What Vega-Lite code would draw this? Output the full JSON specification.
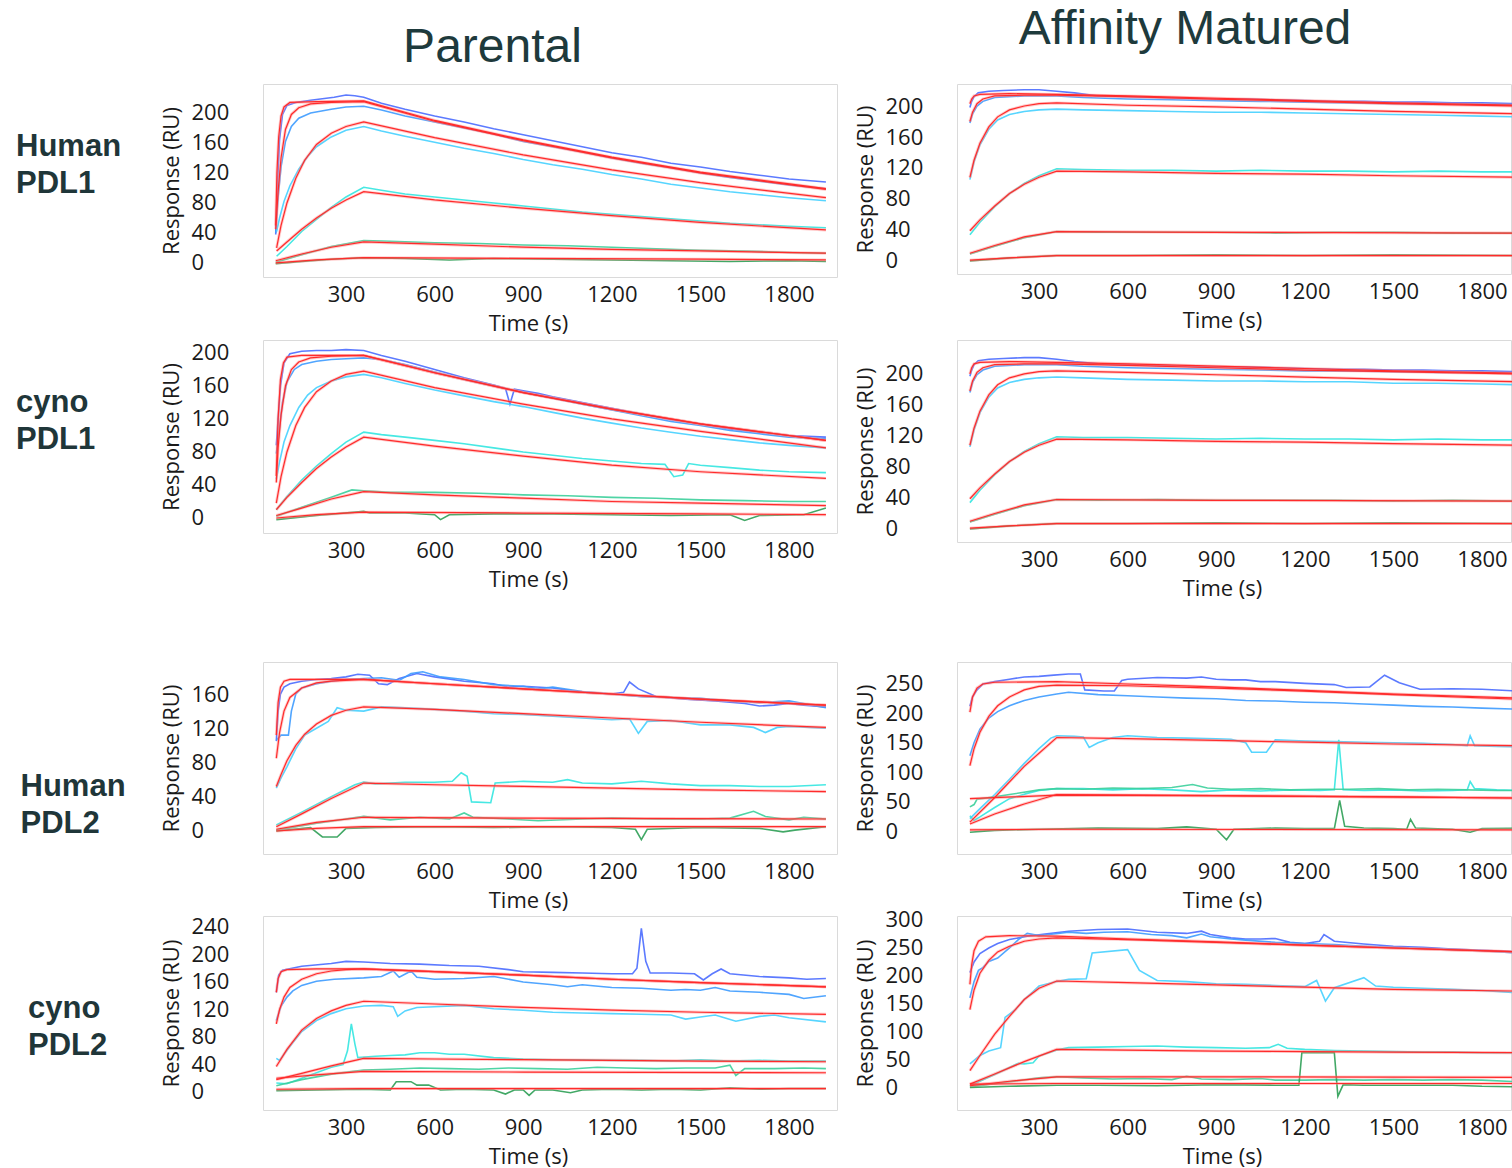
{
"$schema":"https://vega.github.io/schema/vega-lite/v6.json",
"padding":{"left":0,"top":0,"right":0,"bottom":0},
"background":"white",
"config":{
 "view":{"stroke":"#dadada","strokeWidth":1},
 "axis":{"grid":false,"ticks":false,"tickSize":0,"domain":false,"labelFont":"Open Sans","labelFontSize":22,"labelColor":"#1a1a1a","titleFont":"Open Sans","titleFontSize":22,"titleFontWeight":"normal","titleColor":"#1a1a1a","labelOverlap":false},
 "axisX":{"labelPadding":7,"titleX":265,"titleY":53,"titleBaseline":"alphabetic","titleAlign":"center","format":"d"},
 "axisY":{"labelAlign":"left","labelPadding":72,"titleX":-84.5,"titleBaseline":"alphabetic","titleAngle":-90},
 "line":{"clip":true}
},
"datasets":{
"a":[
{"s":11,"t":62,"y":50},{"s":11,"t":66,"y":120},{"s":11,"t":72,"y":168},{"s":11,"t":80,"y":196},{"s":11,"t":90,"y":208},{"s":11,"t":110,"y":214},{"s":11,"t":200,"y":215},{"s":11,"t":360,"y":216},{"s":11,"t":600,"y":190},{"s":11,"t":900,"y":164},{"s":11,"t":1200,"y":141},{"s":11,"t":1500,"y":121},{"s":11,"t":1925,"y":99},
{"s":1,"t":62,"y":38},{"s":1,"t":68,"y":105},{"s":1,"t":75,"y":165},{"s":1,"t":85,"y":198},{"s":1,"t":100,"y":210},{"s":1,"t":130,"y":214},{"s":1,"t":180,"y":217},{"s":1,"t":220,"y":219},{"s":1,"t":260,"y":221},{"s":1,"t":300,"y":224},{"s":1,"t":330,"y":223},{"s":1,"t":360,"y":221},{"s":1,"t":420,"y":213},{"s":1,"t":500,"y":205},{"s":1,"t":600,"y":196},{"s":1,"t":700,"y":188},{"s":1,"t":800,"y":179},{"s":1,"t":900,"y":171},{"s":1,"t":1000,"y":163},{"s":1,"t":1100,"y":155},{"s":1,"t":1200,"y":147},{"s":1,"t":1300,"y":141},{"s":1,"t":1400,"y":133},{"s":1,"t":1500,"y":128},{"s":1,"t":1600,"y":122},{"s":1,"t":1700,"y":117},{"s":1,"t":1800,"y":112},{"s":1,"t":1925,"y":108},
{"s":12,"t":62,"y":45},{"s":12,"t":70,"y":95},{"s":12,"t":80,"y":140},{"s":12,"t":95,"y":178},{"s":12,"t":115,"y":198},{"s":12,"t":140,"y":207},{"s":12,"t":180,"y":212},{"s":12,"t":250,"y":214},{"s":12,"t":360,"y":215},{"s":12,"t":600,"y":189},{"s":12,"t":900,"y":163},{"s":12,"t":1200,"y":140},{"s":12,"t":1500,"y":120},{"s":12,"t":1925,"y":98},
{"s":2,"t":62,"y":40},{"s":2,"t":70,"y":88},{"s":2,"t":80,"y":128},{"s":2,"t":95,"y":162},{"s":2,"t":115,"y":182},{"s":2,"t":140,"y":193},{"s":2,"t":180,"y":200},{"s":2,"t":250,"y":205},{"s":2,"t":300,"y":208},{"s":2,"t":360,"y":209},{"s":2,"t":420,"y":204},{"s":2,"t":500,"y":196},{"s":2,"t":600,"y":188},{"s":2,"t":700,"y":180},{"s":2,"t":800,"y":172},{"s":2,"t":900,"y":162},{"s":2,"t":1000,"y":155},{"s":2,"t":1100,"y":148},{"s":2,"t":1200,"y":140},{"s":2,"t":1300,"y":133},{"s":2,"t":1400,"y":127},{"s":2,"t":1500,"y":120},{"s":2,"t":1600,"y":114},{"s":2,"t":1700,"y":109},{"s":2,"t":1800,"y":104},{"s":2,"t":1925,"y":99},
{"s":13,"t":65,"y":20},{"s":13,"t":80,"y":50},{"s":13,"t":100,"y":80},{"s":13,"t":130,"y":113},{"s":13,"t":160,"y":137},{"s":13,"t":200,"y":158},{"s":13,"t":250,"y":173},{"s":13,"t":300,"y":182},{"s":13,"t":360,"y":188},{"s":13,"t":600,"y":167},{"s":13,"t":900,"y":144},{"s":13,"t":1200,"y":124},{"s":13,"t":1500,"y":107},{"s":13,"t":1925,"y":87},
{"s":3,"t":65,"y":42},{"s":3,"t":75,"y":60},{"s":3,"t":90,"y":82},{"s":3,"t":110,"y":103},{"s":3,"t":140,"y":125},{"s":3,"t":170,"y":142},{"s":3,"t":200,"y":155},{"s":3,"t":250,"y":168},{"s":3,"t":300,"y":177},{"s":3,"t":360,"y":182},{"s":3,"t":420,"y":176},{"s":3,"t":500,"y":169},{"s":3,"t":600,"y":161},{"s":3,"t":700,"y":153},{"s":3,"t":800,"y":146},{"s":3,"t":900,"y":138},{"s":3,"t":1000,"y":131},{"s":3,"t":1100,"y":125},{"s":3,"t":1200,"y":118},{"s":3,"t":1300,"y":112},{"s":3,"t":1400,"y":105},{"s":3,"t":1500,"y":100},{"s":3,"t":1600,"y":95},{"s":3,"t":1700,"y":91},{"s":3,"t":1800,"y":87},{"s":3,"t":1925,"y":83},
{"s":14,"t":65,"y":16},{"s":14,"t":100,"y":28},{"s":14,"t":150,"y":45},{"s":14,"t":200,"y":60},{"s":14,"t":250,"y":73},{"s":14,"t":300,"y":84},{"s":14,"t":360,"y":95},{"s":14,"t":600,"y":84},{"s":14,"t":900,"y":73},{"s":14,"t":1200,"y":63},{"s":14,"t":1500,"y":54},{"s":14,"t":1925,"y":44},
{"s":4,"t":65,"y":9},{"s":4,"t":100,"y":22},{"s":4,"t":150,"y":42},{"s":4,"t":200,"y":58},{"s":4,"t":250,"y":74},{"s":4,"t":300,"y":88},{"s":4,"t":360,"y":101},{"s":4,"t":420,"y":97},{"s":4,"t":500,"y":92},{"s":4,"t":600,"y":88},{"s":4,"t":700,"y":84},{"s":4,"t":800,"y":80},{"s":4,"t":900,"y":76},{"s":4,"t":1000,"y":72},{"s":4,"t":1100,"y":68},{"s":4,"t":1200,"y":65},{"s":4,"t":1300,"y":62},{"s":4,"t":1400,"y":59},{"s":4,"t":1500,"y":56},{"s":4,"t":1600,"y":53},{"s":4,"t":1700,"y":51},{"s":4,"t":1800,"y":49},{"s":4,"t":1925,"y":47},
{"s":15,"t":62,"y":3},{"s":15,"t":150,"y":12},{"s":15,"t":250,"y":21},{"s":15,"t":360,"y":28},{"s":15,"t":600,"y":25},{"s":15,"t":900,"y":21},{"s":15,"t":1200,"y":18},{"s":15,"t":1500,"y":16},{"s":15,"t":1925,"y":13},
{"s":5,"t":62,"y":1},{"s":5,"t":150,"y":11},{"s":5,"t":250,"y":22},{"s":5,"t":360,"y":30},{"s":5,"t":450,"y":29},{"s":5,"t":600,"y":27},{"s":5,"t":750,"y":26},{"s":5,"t":900,"y":24},{"s":5,"t":1050,"y":23},{"s":5,"t":1200,"y":21},{"s":5,"t":1350,"y":19},{"s":5,"t":1500,"y":17},{"s":5,"t":1650,"y":16},{"s":5,"t":1800,"y":14},{"s":5,"t":1925,"y":13},
{"s":16,"t":62,"y":0},{"s":16,"t":200,"y":4},{"s":16,"t":360,"y":7},{"s":16,"t":900,"y":6},{"s":16,"t":1500,"y":5},{"s":16,"t":1925,"y":4},
{"s":6,"t":62,"y":-1},{"s":6,"t":150,"y":2},{"s":6,"t":250,"y":5},{"s":6,"t":360,"y":7},{"s":6,"t":500,"y":6},{"s":6,"t":650,"y":4},{"s":6,"t":800,"y":6},{"s":6,"t":1000,"y":5},{"s":6,"t":1200,"y":4},{"s":6,"t":1400,"y":3},{"s":6,"t":1600,"y":2},{"s":6,"t":1800,"y":3},{"s":6,"t":1925,"y":2}
],
"b":[
{"s":11,"t":66,"y":203},{"s":11,"t":72,"y":209},{"s":11,"t":80,"y":213},{"s":11,"t":100,"y":215},{"s":11,"t":200,"y":216},{"s":11,"t":360,"y":215},{"s":11,"t":600,"y":213},{"s":11,"t":900,"y":210},{"s":11,"t":1200,"y":207},{"s":11,"t":1500,"y":204},{"s":11,"t":1925,"y":201},
{"s":1,"t":66,"y":198},{"s":1,"t":72,"y":206},{"s":1,"t":80,"y":212},{"s":1,"t":94,"y":217},{"s":1,"t":130,"y":219},{"s":1,"t":180,"y":220},{"s":1,"t":250,"y":221},{"s":1,"t":300,"y":221},{"s":1,"t":360,"y":219},{"s":1,"t":420,"y":217},{"s":1,"t":500,"y":213},{"s":1,"t":600,"y":212},{"s":1,"t":700,"y":211},{"s":1,"t":800,"y":210},{"s":1,"t":900,"y":209},{"s":1,"t":1000,"y":209},{"s":1,"t":1100,"y":208},{"s":1,"t":1200,"y":207},{"s":1,"t":1300,"y":206},{"s":1,"t":1400,"y":206},{"s":1,"t":1500,"y":205},{"s":1,"t":1600,"y":205},{"s":1,"t":1700,"y":204},{"s":1,"t":1800,"y":204},{"s":1,"t":1925,"y":203},
{"s":12,"t":66,"y":180},{"s":12,"t":75,"y":192},{"s":12,"t":90,"y":203},{"s":12,"t":110,"y":209},{"s":12,"t":150,"y":213},{"s":12,"t":250,"y":214},{"s":12,"t":360,"y":214},{"s":12,"t":600,"y":212},{"s":12,"t":900,"y":209},{"s":12,"t":1200,"y":206},{"s":12,"t":1500,"y":203},{"s":12,"t":1925,"y":200},
{"s":2,"t":66,"y":178},{"s":2,"t":75,"y":190},{"s":2,"t":90,"y":200},{"s":2,"t":110,"y":206},{"s":2,"t":150,"y":211},{"s":2,"t":250,"y":213},{"s":2,"t":360,"y":213},{"s":2,"t":450,"y":211},{"s":2,"t":600,"y":209},{"s":2,"t":750,"y":208},{"s":2,"t":900,"y":207},{"s":2,"t":1050,"y":206},{"s":2,"t":1200,"y":205},{"s":2,"t":1350,"y":204},{"s":2,"t":1500,"y":203},{"s":2,"t":1650,"y":203},{"s":2,"t":1800,"y":202},{"s":2,"t":1925,"y":202},
{"s":13,"t":66,"y":108},{"s":13,"t":80,"y":130},{"s":13,"t":100,"y":152},{"s":13,"t":130,"y":173},{"s":13,"t":160,"y":186},{"s":13,"t":200,"y":195},{"s":13,"t":250,"y":200},{"s":13,"t":300,"y":203},{"s":13,"t":360,"y":204},{"s":13,"t":600,"y":201},{"s":13,"t":900,"y":199},{"s":13,"t":1200,"y":196},{"s":13,"t":1500,"y":193},{"s":13,"t":1925,"y":190},
{"s":3,"t":66,"y":105},{"s":3,"t":80,"y":128},{"s":3,"t":100,"y":150},{"s":3,"t":130,"y":170},{"s":3,"t":160,"y":182},{"s":3,"t":200,"y":189},{"s":3,"t":250,"y":193},{"s":3,"t":300,"y":195},{"s":3,"t":360,"y":196},{"s":3,"t":450,"y":195},{"s":3,"t":600,"y":194},{"s":3,"t":750,"y":193},{"s":3,"t":900,"y":192},{"s":3,"t":1050,"y":192},{"s":3,"t":1200,"y":191},{"s":3,"t":1350,"y":190},{"s":3,"t":1500,"y":189},{"s":3,"t":1650,"y":188},{"s":3,"t":1800,"y":187},{"s":3,"t":1925,"y":186},
{"s":14,"t":66,"y":39},{"s":14,"t":100,"y":53},{"s":14,"t":150,"y":71},{"s":14,"t":200,"y":87},{"s":14,"t":250,"y":99},{"s":14,"t":300,"y":108},{"s":14,"t":360,"y":116},{"s":14,"t":600,"y":115},{"s":14,"t":900,"y":113},{"s":14,"t":1200,"y":112},{"s":14,"t":1500,"y":110},{"s":14,"t":1925,"y":108},
{"s":4,"t":66,"y":34},{"s":4,"t":100,"y":50},{"s":4,"t":150,"y":70},{"s":4,"t":200,"y":87},{"s":4,"t":250,"y":100},{"s":4,"t":300,"y":110},{"s":4,"t":360,"y":119},{"s":4,"t":450,"y":118},{"s":4,"t":600,"y":117},{"s":4,"t":750,"y":117},{"s":4,"t":900,"y":116},{"s":4,"t":1050,"y":117},{"s":4,"t":1200,"y":116},{"s":4,"t":1350,"y":116},{"s":4,"t":1500,"y":115},{"s":4,"t":1650,"y":116},{"s":4,"t":1800,"y":115},{"s":4,"t":1925,"y":115},
{"s":15,"t":66,"y":10},{"s":15,"t":150,"y":20},{"s":15,"t":250,"y":31},{"s":15,"t":360,"y":38},{"s":15,"t":900,"y":37},{"s":15,"t":1925,"y":36},
{"s":5,"t":66,"y":9},{"s":5,"t":150,"y":19},{"s":5,"t":250,"y":30},{"s":5,"t":360,"y":38},{"s":5,"t":500,"y":37},{"s":5,"t":700,"y":37},{"s":5,"t":900,"y":37},{"s":5,"t":1100,"y":36},{"s":5,"t":1300,"y":37},{"s":5,"t":1500,"y":37},{"s":5,"t":1700,"y":36},{"s":5,"t":1925,"y":36},
{"s":16,"t":66,"y":1},{"s":16,"t":200,"y":4},{"s":16,"t":360,"y":7},{"s":16,"t":1925,"y":7},
{"s":6,"t":66,"y":0},{"s":6,"t":200,"y":4},{"s":6,"t":360,"y":7},{"s":6,"t":600,"y":7},{"s":6,"t":900,"y":8},{"s":6,"t":1200,"y":7},{"s":6,"t":1500,"y":8},{"s":6,"t":1925,"y":7}
],
"c":[
{"s":11,"t":64,"y":51},{"s":11,"t":70,"y":120},{"s":11,"t":78,"y":168},{"s":11,"t":88,"y":188},{"s":11,"t":100,"y":195},{"s":11,"t":150,"y":197},{"s":11,"t":360,"y":197},{"s":11,"t":600,"y":176},{"s":11,"t":900,"y":152},{"s":11,"t":1200,"y":132},{"s":11,"t":1500,"y":114},{"s":11,"t":1925,"y":94},
{"s":1,"t":64,"y":88},{"s":1,"t":70,"y":120},{"s":1,"t":78,"y":160},{"s":1,"t":90,"y":188},{"s":1,"t":110,"y":199},{"s":1,"t":150,"y":202},{"s":1,"t":200,"y":203},{"s":1,"t":250,"y":203},{"s":1,"t":300,"y":204},{"s":1,"t":360,"y":203},{"s":1,"t":420,"y":197},{"s":1,"t":500,"y":190},{"s":1,"t":600,"y":180},{"s":1,"t":700,"y":170},{"s":1,"t":800,"y":161},{"s":1,"t":840,"y":157},{"s":1,"t":855,"y":138},{"s":1,"t":870,"y":156},{"s":1,"t":900,"y":154},{"s":1,"t":950,"y":151},{"s":1,"t":1000,"y":147},{"s":1,"t":1100,"y":140},{"s":1,"t":1200,"y":133},{"s":1,"t":1300,"y":126},{"s":1,"t":1400,"y":119},{"s":1,"t":1500,"y":114},{"s":1,"t":1600,"y":108},{"s":1,"t":1700,"y":104},{"s":1,"t":1800,"y":100},{"s":1,"t":1925,"y":98},
{"s":12,"t":64,"y":43},{"s":12,"t":70,"y":85},{"s":12,"t":80,"y":125},{"s":12,"t":95,"y":160},{"s":12,"t":115,"y":180},{"s":12,"t":140,"y":189},{"s":12,"t":180,"y":194},{"s":12,"t":250,"y":196},{"s":12,"t":360,"y":197},{"s":12,"t":600,"y":176},{"s":12,"t":900,"y":152},{"s":12,"t":1200,"y":132},{"s":12,"t":1500,"y":114},{"s":12,"t":1925,"y":94},
{"s":2,"t":64,"y":78},{"s":2,"t":72,"y":100},{"s":2,"t":85,"y":140},{"s":2,"t":100,"y":165},{"s":2,"t":125,"y":180},{"s":2,"t":150,"y":186},{"s":2,"t":200,"y":190},{"s":2,"t":250,"y":192},{"s":2,"t":300,"y":193},{"s":2,"t":360,"y":194},{"s":2,"t":420,"y":192},{"s":2,"t":500,"y":186},{"s":2,"t":600,"y":177},{"s":2,"t":700,"y":168},{"s":2,"t":800,"y":160},{"s":2,"t":900,"y":152},{"s":2,"t":1000,"y":145},{"s":2,"t":1100,"y":138},{"s":2,"t":1200,"y":131},{"s":2,"t":1300,"y":124},{"s":2,"t":1400,"y":117},{"s":2,"t":1500,"y":112},{"s":2,"t":1600,"y":106},{"s":2,"t":1700,"y":102},{"s":2,"t":1800,"y":98},{"s":2,"t":1925,"y":96},
{"s":13,"t":64,"y":18},{"s":13,"t":80,"y":50},{"s":13,"t":100,"y":80},{"s":13,"t":130,"y":112},{"s":13,"t":160,"y":134},{"s":13,"t":200,"y":153},{"s":13,"t":250,"y":166},{"s":13,"t":300,"y":174},{"s":13,"t":360,"y":178},{"s":13,"t":600,"y":158},{"s":13,"t":900,"y":138},{"s":13,"t":1200,"y":120},{"s":13,"t":1500,"y":105},{"s":13,"t":1925,"y":85},
{"s":3,"t":64,"y":47},{"s":3,"t":75,"y":68},{"s":3,"t":90,"y":92},{"s":3,"t":110,"y":112},{"s":3,"t":140,"y":134},{"s":3,"t":170,"y":149},{"s":3,"t":200,"y":158},{"s":3,"t":250,"y":166},{"s":3,"t":300,"y":171},{"s":3,"t":360,"y":174},{"s":3,"t":420,"y":170},{"s":3,"t":500,"y":163},{"s":3,"t":600,"y":155},{"s":3,"t":700,"y":148},{"s":3,"t":800,"y":141},{"s":3,"t":900,"y":135},{"s":3,"t":1000,"y":128},{"s":3,"t":1100,"y":121},{"s":3,"t":1200,"y":115},{"s":3,"t":1300,"y":109},{"s":3,"t":1400,"y":104},{"s":3,"t":1500,"y":99},{"s":3,"t":1600,"y":95},{"s":3,"t":1700,"y":91},{"s":3,"t":1800,"y":88},{"s":3,"t":1925,"y":85},
{"s":14,"t":64,"y":10},{"s":14,"t":100,"y":25},{"s":14,"t":150,"y":43},{"s":14,"t":200,"y":60},{"s":14,"t":250,"y":74},{"s":14,"t":300,"y":86},{"s":14,"t":360,"y":98},{"s":14,"t":600,"y":87},{"s":14,"t":900,"y":75},{"s":14,"t":1200,"y":64},{"s":14,"t":1500,"y":56},{"s":14,"t":1925,"y":48},
{"s":4,"t":64,"y":10},{"s":4,"t":100,"y":26},{"s":4,"t":150,"y":46},{"s":4,"t":200,"y":63},{"s":4,"t":250,"y":78},{"s":4,"t":300,"y":92},{"s":4,"t":360,"y":104},{"s":4,"t":420,"y":101},{"s":4,"t":500,"y":98},{"s":4,"t":600,"y":94},{"s":4,"t":700,"y":90},{"s":4,"t":800,"y":85},{"s":4,"t":900,"y":80},{"s":4,"t":1000,"y":76},{"s":4,"t":1100,"y":72},{"s":4,"t":1200,"y":69},{"s":4,"t":1300,"y":66},{"s":4,"t":1380,"y":65},{"s":4,"t":1410,"y":50},{"s":4,"t":1440,"y":52},{"s":4,"t":1460,"y":66},{"s":4,"t":1500,"y":64},{"s":4,"t":1600,"y":61},{"s":4,"t":1700,"y":58},{"s":4,"t":1800,"y":56},{"s":4,"t":1925,"y":55},
{"s":15,"t":64,"y":3},{"s":15,"t":150,"y":12},{"s":15,"t":250,"y":23},{"s":15,"t":360,"y":32},{"s":15,"t":600,"y":28},{"s":15,"t":900,"y":24},{"s":15,"t":1200,"y":20},{"s":15,"t":1500,"y":18},{"s":15,"t":1925,"y":15},
{"s":5,"t":64,"y":2},{"s":5,"t":150,"y":13},{"s":5,"t":250,"y":25},{"s":5,"t":320,"y":34},{"s":5,"t":360,"y":33},{"s":5,"t":450,"y":31},{"s":5,"t":600,"y":31},{"s":5,"t":750,"y":30},{"s":5,"t":900,"y":28},{"s":5,"t":1050,"y":27},{"s":5,"t":1200,"y":25},{"s":5,"t":1350,"y":24},{"s":5,"t":1500,"y":22},{"s":5,"t":1650,"y":21},{"s":5,"t":1800,"y":20},{"s":5,"t":1925,"y":20},
{"s":16,"t":64,"y":0},{"s":16,"t":200,"y":4},{"s":16,"t":360,"y":7},{"s":16,"t":900,"y":6},{"s":16,"t":1500,"y":5},{"s":16,"t":1925,"y":4},
{"s":6,"t":64,"y":-2},{"s":6,"t":200,"y":3},{"s":6,"t":360,"y":8},{"s":6,"t":380,"y":6},{"s":6,"t":500,"y":6},{"s":6,"t":600,"y":4},{"s":6,"t":620,"y":-2},{"s":6,"t":650,"y":4},{"s":6,"t":800,"y":5},{"s":6,"t":1000,"y":5},{"s":6,"t":1200,"y":4},{"s":6,"t":1400,"y":3},{"s":6,"t":1600,"y":4},{"s":6,"t":1650,"y":-3},{"s":6,"t":1700,"y":3},{"s":6,"t":1850,"y":4},{"s":6,"t":1925,"y":12}
],
"d":[
{"s":11,"t":66,"y":200},{"s":11,"t":72,"y":208},{"s":11,"t":80,"y":213},{"s":11,"t":100,"y":215},{"s":11,"t":200,"y":216},{"s":11,"t":360,"y":215},{"s":11,"t":600,"y":213},{"s":11,"t":900,"y":210},{"s":11,"t":1200,"y":207},{"s":11,"t":1500,"y":204},{"s":11,"t":1925,"y":201},
{"s":1,"t":66,"y":197},{"s":1,"t":72,"y":205},{"s":1,"t":80,"y":212},{"s":1,"t":94,"y":217},{"s":1,"t":130,"y":219},{"s":1,"t":180,"y":220},{"s":1,"t":250,"y":221},{"s":1,"t":300,"y":221},{"s":1,"t":360,"y":219},{"s":1,"t":420,"y":216},{"s":1,"t":500,"y":213},{"s":1,"t":600,"y":212},{"s":1,"t":700,"y":211},{"s":1,"t":800,"y":210},{"s":1,"t":900,"y":209},{"s":1,"t":1000,"y":209},{"s":1,"t":1100,"y":208},{"s":1,"t":1200,"y":207},{"s":1,"t":1300,"y":206},{"s":1,"t":1400,"y":206},{"s":1,"t":1500,"y":205},{"s":1,"t":1600,"y":205},{"s":1,"t":1700,"y":204},{"s":1,"t":1800,"y":204},{"s":1,"t":1925,"y":203},
{"s":12,"t":66,"y":178},{"s":12,"t":75,"y":191},{"s":12,"t":90,"y":202},{"s":12,"t":110,"y":208},{"s":12,"t":150,"y":212},{"s":12,"t":250,"y":213},{"s":12,"t":360,"y":213},{"s":12,"t":600,"y":211},{"s":12,"t":900,"y":208},{"s":12,"t":1200,"y":205},{"s":12,"t":1500,"y":203},{"s":12,"t":1925,"y":200},
{"s":2,"t":66,"y":176},{"s":2,"t":75,"y":189},{"s":2,"t":90,"y":199},{"s":2,"t":110,"y":205},{"s":2,"t":150,"y":210},{"s":2,"t":250,"y":212},{"s":2,"t":360,"y":212},{"s":2,"t":450,"y":210},{"s":2,"t":600,"y":208},{"s":2,"t":750,"y":207},{"s":2,"t":900,"y":206},{"s":2,"t":1050,"y":205},{"s":2,"t":1200,"y":204},{"s":2,"t":1350,"y":204},{"s":2,"t":1500,"y":203},{"s":2,"t":1650,"y":202},{"s":2,"t":1800,"y":202},{"s":2,"t":1925,"y":201},
{"s":13,"t":66,"y":108},{"s":13,"t":80,"y":130},{"s":13,"t":100,"y":152},{"s":13,"t":130,"y":173},{"s":13,"t":160,"y":186},{"s":13,"t":200,"y":195},{"s":13,"t":250,"y":200},{"s":13,"t":300,"y":203},{"s":13,"t":360,"y":204},{"s":13,"t":600,"y":202},{"s":13,"t":900,"y":199},{"s":13,"t":1200,"y":196},{"s":13,"t":1500,"y":193},{"s":13,"t":1925,"y":190},
{"s":3,"t":66,"y":106},{"s":3,"t":80,"y":128},{"s":3,"t":100,"y":150},{"s":3,"t":130,"y":170},{"s":3,"t":160,"y":182},{"s":3,"t":200,"y":189},{"s":3,"t":250,"y":193},{"s":3,"t":300,"y":195},{"s":3,"t":360,"y":196},{"s":3,"t":450,"y":195},{"s":3,"t":600,"y":193},{"s":3,"t":750,"y":192},{"s":3,"t":900,"y":191},{"s":3,"t":1050,"y":191},{"s":3,"t":1200,"y":190},{"s":3,"t":1350,"y":190},{"s":3,"t":1500,"y":188},{"s":3,"t":1650,"y":188},{"s":3,"t":1800,"y":187},{"s":3,"t":1925,"y":186},
{"s":14,"t":66,"y":39},{"s":14,"t":100,"y":53},{"s":14,"t":150,"y":71},{"s":14,"t":200,"y":87},{"s":14,"t":250,"y":99},{"s":14,"t":300,"y":108},{"s":14,"t":360,"y":116},{"s":14,"t":600,"y":115},{"s":14,"t":900,"y":113},{"s":14,"t":1200,"y":112},{"s":14,"t":1500,"y":110},{"s":14,"t":1925,"y":108},
{"s":4,"t":66,"y":34},{"s":4,"t":100,"y":50},{"s":4,"t":150,"y":70},{"s":4,"t":200,"y":87},{"s":4,"t":250,"y":100},{"s":4,"t":300,"y":110},{"s":4,"t":360,"y":119},{"s":4,"t":450,"y":118},{"s":4,"t":600,"y":118},{"s":4,"t":750,"y":117},{"s":4,"t":900,"y":116},{"s":4,"t":1050,"y":117},{"s":4,"t":1200,"y":116},{"s":4,"t":1350,"y":116},{"s":4,"t":1500,"y":115},{"s":4,"t":1650,"y":116},{"s":4,"t":1800,"y":115},{"s":4,"t":1925,"y":115},
{"s":15,"t":66,"y":10},{"s":15,"t":150,"y":20},{"s":15,"t":250,"y":31},{"s":15,"t":360,"y":38},{"s":15,"t":900,"y":37},{"s":15,"t":1925,"y":36},
{"s":5,"t":66,"y":9},{"s":5,"t":150,"y":19},{"s":5,"t":250,"y":30},{"s":5,"t":360,"y":38},{"s":5,"t":500,"y":37},{"s":5,"t":700,"y":38},{"s":5,"t":900,"y":37},{"s":5,"t":1100,"y":37},{"s":5,"t":1300,"y":37},{"s":5,"t":1500,"y":36},{"s":5,"t":1700,"y":37},{"s":5,"t":1925,"y":36},
{"s":16,"t":66,"y":1},{"s":16,"t":200,"y":4},{"s":16,"t":360,"y":7},{"s":16,"t":1925,"y":7},
{"s":6,"t":66,"y":0},{"s":6,"t":200,"y":4},{"s":6,"t":360,"y":7},{"s":6,"t":600,"y":7},{"s":6,"t":900,"y":8},{"s":6,"t":1200,"y":7},{"s":6,"t":1500,"y":8},{"s":6,"t":1925,"y":7}
],
"e":[
{"s":11,"t":64,"y":112},{"s":11,"t":70,"y":150},{"s":11,"t":78,"y":168},{"s":11,"t":90,"y":175},{"s":11,"t":110,"y":177},{"s":11,"t":200,"y":177},{"s":11,"t":360,"y":177},{"s":11,"t":600,"y":172},{"s":11,"t":900,"y":166},{"s":11,"t":1200,"y":160},{"s":11,"t":1500,"y":154},{"s":11,"t":1925,"y":147},
{"s":1,"t":64,"y":105},{"s":1,"t":70,"y":140},{"s":1,"t":78,"y":160},{"s":1,"t":90,"y":168},{"s":1,"t":110,"y":172},{"s":1,"t":150,"y":175},{"s":1,"t":200,"y":177},{"s":1,"t":250,"y":178},{"s":1,"t":300,"y":180},{"s":1,"t":340,"y":183},{"s":1,"t":380,"y":182},{"s":1,"t":410,"y":172},{"s":1,"t":440,"y":171},{"s":1,"t":480,"y":178},{"s":1,"t":540,"y":184},{"s":1,"t":600,"y":180},{"s":1,"t":700,"y":175},{"s":1,"t":800,"y":172},{"s":1,"t":850,"y":168},{"s":1,"t":900,"y":169},{"s":1,"t":1000,"y":167},{"s":1,"t":1100,"y":162},{"s":1,"t":1200,"y":160},{"s":1,"t":1240,"y":162},{"s":1,"t":1260,"y":174},{"s":1,"t":1290,"y":166},{"s":1,"t":1350,"y":157},{"s":1,"t":1450,"y":154},{"s":1,"t":1550,"y":152},{"s":1,"t":1650,"y":149},{"s":1,"t":1700,"y":146},{"s":1,"t":1750,"y":147},{"s":1,"t":1800,"y":149},{"s":1,"t":1850,"y":147},{"s":1,"t":1925,"y":145},
{"s":12,"t":64,"y":85},{"s":12,"t":75,"y":115},{"s":12,"t":90,"y":140},{"s":12,"t":110,"y":156},{"s":12,"t":150,"y":167},{"s":12,"t":200,"y":173},{"s":12,"t":250,"y":175},{"s":12,"t":360,"y":177},{"s":12,"t":600,"y":172},{"s":12,"t":900,"y":166},{"s":12,"t":1200,"y":160},{"s":12,"t":1500,"y":154},{"s":12,"t":1925,"y":147},
{"s":2,"t":64,"y":106},{"s":2,"t":80,"y":112},{"s":2,"t":105,"y":112},{"s":2,"t":115,"y":140},{"s":2,"t":130,"y":160},{"s":2,"t":150,"y":167},{"s":2,"t":200,"y":172},{"s":2,"t":250,"y":175},{"s":2,"t":300,"y":177},{"s":2,"t":360,"y":178},{"s":2,"t":420,"y":179},{"s":2,"t":480,"y":176},{"s":2,"t":520,"y":184},{"s":2,"t":560,"y":186},{"s":2,"t":620,"y":180},{"s":2,"t":700,"y":177},{"s":2,"t":800,"y":171},{"s":2,"t":900,"y":169},{"s":2,"t":950,"y":166},{"s":2,"t":1000,"y":168},{"s":2,"t":1100,"y":163},{"s":2,"t":1200,"y":160},{"s":2,"t":1300,"y":157},{"s":2,"t":1400,"y":156},{"s":2,"t":1500,"y":155},{"s":2,"t":1600,"y":152},{"s":2,"t":1700,"y":150},{"s":2,"t":1800,"y":152},{"s":2,"t":1925,"y":144},
{"s":13,"t":64,"y":52},{"s":13,"t":80,"y":66},{"s":13,"t":100,"y":82},{"s":13,"t":130,"y":100},{"s":13,"t":160,"y":113},{"s":13,"t":200,"y":125},{"s":13,"t":250,"y":135},{"s":13,"t":300,"y":141},{"s":13,"t":360,"y":145},{"s":13,"t":600,"y":142},{"s":13,"t":900,"y":137},{"s":13,"t":1200,"y":132},{"s":13,"t":1500,"y":127},{"s":13,"t":1925,"y":121},
{"s":3,"t":64,"y":50},{"s":3,"t":80,"y":62},{"s":3,"t":100,"y":75},{"s":3,"t":130,"y":96},{"s":3,"t":160,"y":112},{"s":3,"t":200,"y":120},{"s":3,"t":240,"y":128},{"s":3,"t":270,"y":144},{"s":3,"t":300,"y":141},{"s":3,"t":360,"y":140},{"s":3,"t":420,"y":145},{"s":3,"t":500,"y":144},{"s":3,"t":600,"y":142},{"s":3,"t":700,"y":140},{"s":3,"t":800,"y":137},{"s":3,"t":900,"y":136},{"s":3,"t":1000,"y":134},{"s":3,"t":1100,"y":132},{"s":3,"t":1200,"y":130},{"s":3,"t":1260,"y":131},{"s":3,"t":1290,"y":114},{"s":3,"t":1320,"y":128},{"s":3,"t":1400,"y":129},{"s":3,"t":1500,"y":124},{"s":3,"t":1600,"y":124},{"s":3,"t":1680,"y":121},{"s":3,"t":1720,"y":115},{"s":3,"t":1760,"y":121},{"s":3,"t":1800,"y":122},{"s":3,"t":1925,"y":120},
{"s":14,"t":64,"y":5},{"s":14,"t":150,"y":20},{"s":14,"t":250,"y":38},{"s":14,"t":360,"y":56},{"s":14,"t":600,"y":54},{"s":14,"t":900,"y":52},{"s":14,"t":1200,"y":50},{"s":14,"t":1500,"y":48},{"s":14,"t":1925,"y":46},
{"s":4,"t":64,"y":7},{"s":4,"t":150,"y":22},{"s":4,"t":250,"y":40},{"s":4,"t":330,"y":54},{"s":4,"t":360,"y":57},{"s":4,"t":400,"y":55},{"s":4,"t":500,"y":57},{"s":4,"t":600,"y":57},{"s":4,"t":660,"y":58},{"s":4,"t":690,"y":68},{"s":4,"t":710,"y":64},{"s":4,"t":725,"y":34},{"s":4,"t":790,"y":33},{"s":4,"t":805,"y":56},{"s":4,"t":900,"y":58},{"s":4,"t":1000,"y":57},{"s":4,"t":1050,"y":60},{"s":4,"t":1100,"y":56},{"s":4,"t":1200,"y":55},{"s":4,"t":1300,"y":58},{"s":4,"t":1400,"y":55},{"s":4,"t":1500,"y":53},{"s":4,"t":1600,"y":53},{"s":4,"t":1700,"y":52},{"s":4,"t":1800,"y":52},{"s":4,"t":1925,"y":54},
{"s":15,"t":64,"y":2},{"s":15,"t":200,"y":10},{"s":15,"t":360,"y":16},{"s":15,"t":900,"y":15},{"s":15,"t":1925,"y":14},
{"s":5,"t":64,"y":1},{"s":5,"t":200,"y":9},{"s":5,"t":300,"y":14},{"s":5,"t":360,"y":17},{"s":5,"t":450,"y":13},{"s":5,"t":550,"y":16},{"s":5,"t":650,"y":14},{"s":5,"t":700,"y":21},{"s":5,"t":730,"y":16},{"s":5,"t":850,"y":14},{"s":5,"t":950,"y":12},{"s":5,"t":1100,"y":14},{"s":5,"t":1200,"y":15},{"s":5,"t":1350,"y":14},{"s":5,"t":1500,"y":14},{"s":5,"t":1600,"y":15},{"s":5,"t":1680,"y":23},{"s":5,"t":1720,"y":17},{"s":5,"t":1800,"y":13},{"s":5,"t":1850,"y":16},{"s":5,"t":1925,"y":14},
{"s":16,"t":64,"y":0},{"s":16,"t":200,"y":3},{"s":16,"t":360,"y":5},{"s":16,"t":1925,"y":5},
{"s":6,"t":64,"y":0},{"s":6,"t":180,"y":4},{"s":6,"t":220,"y":-7},{"s":6,"t":270,"y":-7},{"s":6,"t":300,"y":3},{"s":6,"t":400,"y":4},{"s":6,"t":600,"y":5},{"s":6,"t":800,"y":4},{"s":6,"t":1000,"y":5},{"s":6,"t":1200,"y":4},{"s":6,"t":1280,"y":2},{"s":6,"t":1300,"y":-10},{"s":6,"t":1320,"y":2},{"s":6,"t":1500,"y":4},{"s":6,"t":1700,"y":3},{"s":6,"t":1780,"y":-1},{"s":6,"t":1820,"y":1},{"s":6,"t":1925,"y":5}
],
"f":[
{"s":11,"t":66,"y":202},{"s":11,"t":75,"y":228},{"s":11,"t":90,"y":243},{"s":11,"t":110,"y":250},{"s":11,"t":150,"y":253},{"s":11,"t":360,"y":254},{"s":11,"t":600,"y":250},{"s":11,"t":900,"y":245},{"s":11,"t":1200,"y":239},{"s":11,"t":1500,"y":233},{"s":11,"t":1925,"y":226},
{"s":1,"t":66,"y":212},{"s":1,"t":75,"y":228},{"s":1,"t":90,"y":240},{"s":1,"t":110,"y":250},{"s":1,"t":150,"y":254},{"s":1,"t":200,"y":258},{"s":1,"t":250,"y":262},{"s":1,"t":300,"y":263},{"s":1,"t":350,"y":265},{"s":1,"t":400,"y":267},{"s":1,"t":440,"y":267},{"s":1,"t":455,"y":240},{"s":1,"t":520,"y":238},{"s":1,"t":555,"y":238},{"s":1,"t":580,"y":256},{"s":1,"t":600,"y":258},{"s":1,"t":700,"y":261},{"s":1,"t":800,"y":260},{"s":1,"t":850,"y":262},{"s":1,"t":900,"y":258},{"s":1,"t":950,"y":257},{"s":1,"t":1000,"y":257},{"s":1,"t":1050,"y":254},{"s":1,"t":1100,"y":254},{"s":1,"t":1200,"y":251},{"s":1,"t":1300,"y":249},{"s":1,"t":1340,"y":244},{"s":1,"t":1420,"y":245},{"s":1,"t":1470,"y":265},{"s":1,"t":1520,"y":252},{"s":1,"t":1590,"y":241},{"s":1,"t":1700,"y":242},{"s":1,"t":1800,"y":241},{"s":1,"t":1925,"y":238},
{"s":12,"t":66,"y":111},{"s":12,"t":80,"y":140},{"s":12,"t":100,"y":168},{"s":12,"t":130,"y":195},{"s":12,"t":160,"y":213},{"s":12,"t":200,"y":228},{"s":12,"t":250,"y":240},{"s":12,"t":300,"y":246},{"s":12,"t":360,"y":248},{"s":12,"t":600,"y":247},{"s":12,"t":900,"y":243},{"s":12,"t":1200,"y":238},{"s":12,"t":1500,"y":232},{"s":12,"t":1925,"y":224},
{"s":2,"t":66,"y":128},{"s":2,"t":80,"y":150},{"s":2,"t":100,"y":173},{"s":2,"t":130,"y":192},{"s":2,"t":160,"y":203},{"s":2,"t":200,"y":213},{"s":2,"t":250,"y":222},{"s":2,"t":300,"y":228},{"s":2,"t":360,"y":233},{"s":2,"t":400,"y":236},{"s":2,"t":500,"y":232},{"s":2,"t":600,"y":230},{"s":2,"t":700,"y":228},{"s":2,"t":800,"y":226},{"s":2,"t":900,"y":225},{"s":2,"t":1000,"y":222},{"s":2,"t":1100,"y":221},{"s":2,"t":1200,"y":219},{"s":2,"t":1300,"y":218},{"s":2,"t":1400,"y":216},{"s":2,"t":1500,"y":214},{"s":2,"t":1600,"y":212},{"s":2,"t":1700,"y":211},{"s":2,"t":1800,"y":209},{"s":2,"t":1925,"y":207},
{"s":13,"t":66,"y":15},{"s":13,"t":150,"y":57},{"s":13,"t":250,"y":110},{"s":13,"t":360,"y":159},{"s":13,"t":600,"y":157},{"s":13,"t":900,"y":154},{"s":13,"t":1200,"y":151},{"s":13,"t":1500,"y":148},{"s":13,"t":1925,"y":145},
{"s":3,"t":66,"y":21},{"s":3,"t":100,"y":38},{"s":3,"t":150,"y":62},{"s":3,"t":200,"y":88},{"s":3,"t":250,"y":115},{"s":3,"t":300,"y":140},{"s":3,"t":340,"y":158},{"s":3,"t":360,"y":162},{"s":3,"t":420,"y":161},{"s":3,"t":450,"y":160},{"s":3,"t":470,"y":142},{"s":3,"t":500,"y":150},{"s":3,"t":550,"y":159},{"s":3,"t":600,"y":162},{"s":3,"t":700,"y":159},{"s":3,"t":800,"y":158},{"s":3,"t":900,"y":157},{"s":3,"t":950,"y":156},{"s":3,"t":1000,"y":150},{"s":3,"t":1020,"y":134},{"s":3,"t":1070,"y":134},{"s":3,"t":1100,"y":155},{"s":3,"t":1200,"y":153},{"s":3,"t":1300,"y":152},{"s":3,"t":1400,"y":151},{"s":3,"t":1500,"y":150},{"s":3,"t":1600,"y":149},{"s":3,"t":1700,"y":147},{"s":3,"t":1750,"y":145},{"s":3,"t":1760,"y":162},{"s":3,"t":1775,"y":145},{"s":3,"t":1850,"y":144},{"s":3,"t":1925,"y":143},
{"s":14,"t":66,"y":55},{"s":14,"t":360,"y":61},{"s":14,"t":900,"y":60},{"s":14,"t":1500,"y":58},{"s":14,"t":1925,"y":56},
{"s":15,"t":66,"y":12},{"s":15,"t":150,"y":29},{"s":15,"t":250,"y":46},{"s":15,"t":360,"y":62},{"s":15,"t":900,"y":60},{"s":15,"t":1500,"y":58},{"s":15,"t":1925,"y":56},
{"s":4,"t":66,"y":26},{"s":4,"t":80,"y":18},{"s":4,"t":100,"y":24},{"s":4,"t":150,"y":40},{"s":4,"t":200,"y":55},{"s":4,"t":260,"y":64},{"s":4,"t":300,"y":69},{"s":4,"t":360,"y":72},{"s":4,"t":450,"y":72},{"s":4,"t":550,"y":70},{"s":4,"t":650,"y":72},{"s":4,"t":750,"y":70},{"s":4,"t":850,"y":67},{"s":4,"t":950,"y":70},{"s":4,"t":1050,"y":68},{"s":4,"t":1150,"y":70},{"s":4,"t":1250,"y":69},{"s":4,"t":1300,"y":70},{"s":4,"t":1315,"y":155},{"s":4,"t":1330,"y":70},{"s":4,"t":1400,"y":69},{"s":4,"t":1500,"y":70},{"s":4,"t":1600,"y":68},{"s":4,"t":1700,"y":69},{"s":4,"t":1750,"y":70},{"s":4,"t":1760,"y":84},{"s":4,"t":1775,"y":72},{"s":4,"t":1850,"y":70},{"s":4,"t":1925,"y":69},
{"s":5,"t":66,"y":41},{"s":5,"t":80,"y":45},{"s":5,"t":90,"y":54},{"s":5,"t":150,"y":58},{"s":5,"t":200,"y":62},{"s":5,"t":300,"y":70},{"s":5,"t":360,"y":72},{"s":5,"t":450,"y":71},{"s":5,"t":550,"y":73},{"s":5,"t":650,"y":72},{"s":5,"t":750,"y":74},{"s":5,"t":820,"y":79},{"s":5,"t":870,"y":73},{"s":5,"t":950,"y":71},{"s":5,"t":1050,"y":72},{"s":5,"t":1150,"y":70},{"s":5,"t":1250,"y":71},{"s":5,"t":1350,"y":71},{"s":5,"t":1450,"y":72},{"s":5,"t":1550,"y":70},{"s":5,"t":1650,"y":71},{"s":5,"t":1750,"y":70},{"s":5,"t":1850,"y":69},{"s":5,"t":1925,"y":69},
{"s":16,"t":66,"y":2},{"s":16,"t":360,"y":3},{"s":16,"t":1925,"y":2},
{"s":6,"t":66,"y":-2},{"s":6,"t":150,"y":1},{"s":6,"t":300,"y":3},{"s":6,"t":500,"y":5},{"s":6,"t":700,"y":4},{"s":6,"t":800,"y":7},{"s":6,"t":900,"y":3},{"s":6,"t":935,"y":-15},{"s":6,"t":960,"y":3},{"s":6,"t":1100,"y":5},{"s":6,"t":1200,"y":4},{"s":6,"t":1300,"y":4},{"s":6,"t":1318,"y":52},{"s":6,"t":1335,"y":8},{"s":6,"t":1400,"y":5},{"s":6,"t":1500,"y":4},{"s":6,"t":1545,"y":3},{"s":6,"t":1558,"y":20},{"s":6,"t":1575,"y":5},{"s":6,"t":1700,"y":3},{"s":6,"t":1760,"y":-2},{"s":6,"t":1800,"y":4},{"s":6,"t":1925,"y":5}
],
"g":[
{"s":11,"t":64,"y":145},{"s":11,"t":70,"y":165},{"s":11,"t":80,"y":175},{"s":11,"t":100,"y":178},{"s":11,"t":200,"y":179},{"s":11,"t":360,"y":179},{"s":11,"t":600,"y":175},{"s":11,"t":900,"y":170},{"s":11,"t":1200,"y":164},{"s":11,"t":1500,"y":159},{"s":11,"t":1925,"y":153},
{"s":1,"t":64,"y":145},{"s":1,"t":72,"y":170},{"s":1,"t":85,"y":177},{"s":1,"t":150,"y":183},{"s":1,"t":250,"y":187},{"s":1,"t":300,"y":190},{"s":1,"t":360,"y":189},{"s":1,"t":450,"y":187},{"s":1,"t":550,"y":186},{"s":1,"t":650,"y":184},{"s":1,"t":750,"y":183},{"s":1,"t":850,"y":178},{"s":1,"t":900,"y":175},{"s":1,"t":1000,"y":174},{"s":1,"t":1100,"y":173},{"s":1,"t":1200,"y":172},{"s":1,"t":1270,"y":172},{"s":1,"t":1285,"y":180},{"s":1,"t":1300,"y":238},{"s":1,"t":1315,"y":190},{"s":1,"t":1330,"y":173},{"s":1,"t":1400,"y":173},{"s":1,"t":1480,"y":172},{"s":1,"t":1510,"y":163},{"s":1,"t":1540,"y":172},{"s":1,"t":1570,"y":179},{"s":1,"t":1600,"y":172},{"s":1,"t":1700,"y":168},{"s":1,"t":1800,"y":166},{"s":1,"t":1860,"y":164},{"s":1,"t":1925,"y":165},
{"s":12,"t":64,"y":99},{"s":12,"t":75,"y":120},{"s":12,"t":90,"y":138},{"s":12,"t":110,"y":152},{"s":12,"t":150,"y":164},{"s":12,"t":200,"y":172},{"s":12,"t":250,"y":176},{"s":12,"t":300,"y":178},{"s":12,"t":360,"y":179},{"s":12,"t":600,"y":175},{"s":12,"t":900,"y":170},{"s":12,"t":1200,"y":164},{"s":12,"t":1500,"y":159},{"s":12,"t":1925,"y":153},
{"s":2,"t":64,"y":104},{"s":2,"t":80,"y":125},{"s":2,"t":100,"y":138},{"s":2,"t":120,"y":147},{"s":2,"t":150,"y":155},{"s":2,"t":200,"y":161},{"s":2,"t":260,"y":164},{"s":2,"t":360,"y":166},{"s":2,"t":420,"y":168},{"s":2,"t":460,"y":176},{"s":2,"t":480,"y":167},{"s":2,"t":520,"y":176},{"s":2,"t":540,"y":167},{"s":2,"t":600,"y":164},{"s":2,"t":700,"y":165},{"s":2,"t":800,"y":168},{"s":2,"t":900,"y":160},{"s":2,"t":1000,"y":156},{"s":2,"t":1050,"y":153},{"s":2,"t":1100,"y":156},{"s":2,"t":1200,"y":152},{"s":2,"t":1300,"y":151},{"s":2,"t":1400,"y":148},{"s":2,"t":1450,"y":149},{"s":2,"t":1500,"y":148},{"s":2,"t":1550,"y":152},{"s":2,"t":1600,"y":147},{"s":2,"t":1700,"y":145},{"s":2,"t":1800,"y":142},{"s":2,"t":1850,"y":136},{"s":2,"t":1925,"y":140},
{"s":13,"t":64,"y":37},{"s":13,"t":100,"y":62},{"s":13,"t":150,"y":90},{"s":13,"t":200,"y":107},{"s":13,"t":250,"y":118},{"s":13,"t":300,"y":126},{"s":13,"t":360,"y":132},{"s":13,"t":600,"y":128},{"s":13,"t":900,"y":123},{"s":13,"t":1200,"y":119},{"s":13,"t":1500,"y":116},{"s":13,"t":1925,"y":113},
{"s":3,"t":64,"y":49},{"s":3,"t":75,"y":46},{"s":3,"t":90,"y":55},{"s":3,"t":120,"y":72},{"s":3,"t":150,"y":88},{"s":3,"t":200,"y":104},{"s":3,"t":250,"y":114},{"s":3,"t":300,"y":121},{"s":3,"t":360,"y":125},{"s":3,"t":420,"y":126},{"s":3,"t":460,"y":124},{"s":3,"t":475,"y":110},{"s":3,"t":500,"y":118},{"s":3,"t":540,"y":123},{"s":3,"t":600,"y":124},{"s":3,"t":700,"y":126},{"s":3,"t":800,"y":121},{"s":3,"t":900,"y":119},{"s":3,"t":1000,"y":116},{"s":3,"t":1100,"y":115},{"s":3,"t":1200,"y":114},{"s":3,"t":1300,"y":113},{"s":3,"t":1400,"y":112},{"s":3,"t":1450,"y":106},{"s":3,"t":1500,"y":109},{"s":3,"t":1550,"y":112},{"s":3,"t":1620,"y":103},{"s":3,"t":1700,"y":110},{"s":3,"t":1750,"y":112},{"s":3,"t":1800,"y":108},{"s":3,"t":1925,"y":102},
{"s":14,"t":64,"y":18},{"s":14,"t":150,"y":27},{"s":14,"t":250,"y":38},{"s":14,"t":360,"y":49},{"s":14,"t":600,"y":48},{"s":14,"t":900,"y":47},{"s":14,"t":1200,"y":46},{"s":14,"t":1500,"y":45},{"s":14,"t":1925,"y":44},
{"s":4,"t":64,"y":13},{"s":4,"t":100,"y":12},{"s":4,"t":150,"y":20},{"s":4,"t":200,"y":28},{"s":4,"t":250,"y":36},{"s":4,"t":290,"y":40},{"s":4,"t":305,"y":60},{"s":4,"t":318,"y":99},{"s":4,"t":330,"y":70},{"s":4,"t":340,"y":50},{"s":4,"t":400,"y":52},{"s":4,"t":450,"y":53},{"s":4,"t":500,"y":54},{"s":4,"t":550,"y":57},{"s":4,"t":600,"y":57},{"s":4,"t":650,"y":55},{"s":4,"t":700,"y":55},{"s":4,"t":800,"y":50},{"s":4,"t":900,"y":48},{"s":4,"t":1000,"y":47},{"s":4,"t":1100,"y":47},{"s":4,"t":1200,"y":46},{"s":4,"t":1300,"y":46},{"s":4,"t":1400,"y":45},{"s":4,"t":1500,"y":47},{"s":4,"t":1600,"y":45},{"s":4,"t":1700,"y":46},{"s":4,"t":1800,"y":45},{"s":4,"t":1925,"y":45},
{"s":15,"t":64,"y":20},{"s":15,"t":200,"y":25},{"s":15,"t":360,"y":30},{"s":15,"t":900,"y":29},{"s":15,"t":1925,"y":28},
{"s":5,"t":64,"y":9},{"s":5,"t":150,"y":18},{"s":5,"t":250,"y":26},{"s":5,"t":360,"y":32},{"s":5,"t":450,"y":33},{"s":5,"t":550,"y":35},{"s":5,"t":650,"y":34},{"s":5,"t":750,"y":33},{"s":5,"t":850,"y":35},{"s":5,"t":950,"y":34},{"s":5,"t":1050,"y":33},{"s":5,"t":1150,"y":36},{"s":5,"t":1250,"y":35},{"s":5,"t":1350,"y":34},{"s":5,"t":1450,"y":35},{"s":5,"t":1550,"y":35},{"s":5,"t":1600,"y":39},{"s":5,"t":1620,"y":24},{"s":5,"t":1650,"y":34},{"s":5,"t":1750,"y":34},{"s":5,"t":1850,"y":35},{"s":5,"t":1925,"y":34},
{"s":16,"t":64,"y":4},{"s":16,"t":360,"y":5},{"s":16,"t":1925,"y":5},
{"s":6,"t":64,"y":2},{"s":6,"t":200,"y":3},{"s":6,"t":350,"y":4},{"s":6,"t":450,"y":3},{"s":6,"t":470,"y":15},{"s":6,"t":520,"y":15},{"s":6,"t":540,"y":10},{"s":6,"t":580,"y":10},{"s":6,"t":620,"y":3},{"s":6,"t":700,"y":4},{"s":6,"t":800,"y":3},{"s":6,"t":840,"y":-3},{"s":6,"t":870,"y":3},{"s":6,"t":900,"y":3},{"s":6,"t":920,"y":-5},{"s":6,"t":940,"y":3},{"s":6,"t":1000,"y":3},{"s":6,"t":1060,"y":-1},{"s":6,"t":1100,"y":3},{"s":6,"t":1200,"y":4},{"s":6,"t":1300,"y":3},{"s":6,"t":1400,"y":4},{"s":6,"t":1500,"y":3},{"s":6,"t":1600,"y":6},{"s":6,"t":1700,"y":4},{"s":6,"t":1800,"y":5},{"s":6,"t":1925,"y":5}
],
"h":[
{"s":11,"t":66,"y":185},{"s":11,"t":72,"y":220},{"s":11,"t":80,"y":245},{"s":11,"t":95,"y":262},{"s":11,"t":120,"y":270},{"s":11,"t":200,"y":272},{"s":11,"t":360,"y":271},{"s":11,"t":600,"y":266},{"s":11,"t":900,"y":261},{"s":11,"t":1200,"y":255},{"s":11,"t":1500,"y":250},{"s":11,"t":1925,"y":243},
{"s":1,"t":66,"y":206},{"s":1,"t":80,"y":225},{"s":1,"t":100,"y":240},{"s":1,"t":130,"y":250},{"s":1,"t":160,"y":258},{"s":1,"t":200,"y":265},{"s":1,"t":260,"y":271},{"s":1,"t":320,"y":275},{"s":1,"t":400,"y":280},{"s":1,"t":500,"y":283},{"s":1,"t":600,"y":284},{"s":1,"t":700,"y":278},{"s":1,"t":800,"y":276},{"s":1,"t":850,"y":280},{"s":1,"t":880,"y":274},{"s":1,"t":950,"y":268},{"s":1,"t":1000,"y":266},{"s":1,"t":1050,"y":266},{"s":1,"t":1100,"y":267},{"s":1,"t":1150,"y":260},{"s":1,"t":1200,"y":258},{"s":1,"t":1250,"y":262},{"s":1,"t":1265,"y":274},{"s":1,"t":1300,"y":262},{"s":1,"t":1400,"y":257},{"s":1,"t":1500,"y":253},{"s":1,"t":1600,"y":251},{"s":1,"t":1700,"y":248},{"s":1,"t":1800,"y":246},{"s":1,"t":1925,"y":243},
{"s":12,"t":66,"y":140},{"s":12,"t":80,"y":175},{"s":12,"t":100,"y":205},{"s":12,"t":130,"y":228},{"s":12,"t":160,"y":243},{"s":12,"t":200,"y":253},{"s":12,"t":250,"y":262},{"s":12,"t":300,"y":266},{"s":12,"t":360,"y":268},{"s":12,"t":600,"y":265},{"s":12,"t":900,"y":260},{"s":12,"t":1200,"y":255},{"s":12,"t":1500,"y":250},{"s":12,"t":1925,"y":243},
{"s":2,"t":66,"y":161},{"s":2,"t":80,"y":190},{"s":2,"t":95,"y":210},{"s":2,"t":110,"y":215},{"s":2,"t":130,"y":226},{"s":2,"t":160,"y":232},{"s":2,"t":200,"y":250},{"s":2,"t":230,"y":265},{"s":2,"t":260,"y":276},{"s":2,"t":300,"y":272},{"s":2,"t":350,"y":275},{"s":2,"t":400,"y":278},{"s":2,"t":460,"y":276},{"s":2,"t":520,"y":278},{"s":2,"t":600,"y":279},{"s":2,"t":680,"y":274},{"s":2,"t":750,"y":272},{"s":2,"t":800,"y":268},{"s":2,"t":850,"y":275},{"s":2,"t":880,"y":270},{"s":2,"t":950,"y":266},{"s":2,"t":1000,"y":264},{"s":2,"t":1100,"y":260},{"s":2,"t":1200,"y":258},{"s":2,"t":1300,"y":256},{"s":2,"t":1400,"y":253},{"s":2,"t":1500,"y":251},{"s":2,"t":1600,"y":249},{"s":2,"t":1700,"y":247},{"s":2,"t":1800,"y":245},{"s":2,"t":1925,"y":241},
{"s":13,"t":66,"y":31},{"s":13,"t":100,"y":58},{"s":13,"t":150,"y":96},{"s":13,"t":200,"y":128},{"s":13,"t":250,"y":158},{"s":13,"t":300,"y":178},{"s":13,"t":360,"y":191},{"s":13,"t":600,"y":188},{"s":13,"t":900,"y":184},{"s":13,"t":1200,"y":180},{"s":13,"t":1500,"y":176},{"s":13,"t":1925,"y":173},
{"s":3,"t":66,"y":43},{"s":3,"t":100,"y":58},{"s":3,"t":130,"y":66},{"s":3,"t":170,"y":72},{"s":3,"t":185,"y":126},{"s":3,"t":220,"y":140},{"s":3,"t":250,"y":158},{"s":3,"t":280,"y":172},{"s":3,"t":300,"y":182},{"s":3,"t":360,"y":190},{"s":3,"t":400,"y":194},{"s":3,"t":460,"y":195},{"s":3,"t":480,"y":241},{"s":3,"t":600,"y":247},{"s":3,"t":640,"y":210},{"s":3,"t":700,"y":192},{"s":3,"t":800,"y":190},{"s":3,"t":900,"y":186},{"s":3,"t":1000,"y":185},{"s":3,"t":1100,"y":183},{"s":3,"t":1200,"y":181},{"s":3,"t":1240,"y":192},{"s":3,"t":1270,"y":155},{"s":3,"t":1300,"y":179},{"s":3,"t":1400,"y":197},{"s":3,"t":1440,"y":182},{"s":3,"t":1500,"y":180},{"s":3,"t":1600,"y":178},{"s":3,"t":1700,"y":176},{"s":3,"t":1800,"y":174},{"s":3,"t":1925,"y":170},
{"s":14,"t":66,"y":7},{"s":14,"t":150,"y":25},{"s":14,"t":250,"y":47},{"s":14,"t":360,"y":69},{"s":14,"t":900,"y":66},{"s":14,"t":1500,"y":64},{"s":14,"t":1925,"y":63},
{"s":4,"t":66,"y":4},{"s":4,"t":150,"y":24},{"s":4,"t":230,"y":44},{"s":4,"t":250,"y":43},{"s":4,"t":280,"y":45},{"s":4,"t":300,"y":57},{"s":4,"t":360,"y":68},{"s":4,"t":400,"y":72},{"s":4,"t":500,"y":73},{"s":4,"t":600,"y":74},{"s":4,"t":700,"y":75},{"s":4,"t":800,"y":73},{"s":4,"t":900,"y":72},{"s":4,"t":1000,"y":71},{"s":4,"t":1080,"y":72},{"s":4,"t":1110,"y":78},{"s":4,"t":1140,"y":71},{"s":4,"t":1200,"y":69},{"s":4,"t":1300,"y":67},{"s":4,"t":1400,"y":66},{"s":4,"t":1500,"y":65},{"s":4,"t":1600,"y":64},{"s":4,"t":1700,"y":64},{"s":4,"t":1800,"y":63},{"s":4,"t":1925,"y":63},
{"s":15,"t":66,"y":4},{"s":15,"t":200,"y":12},{"s":15,"t":360,"y":20},{"s":15,"t":900,"y":20},{"s":15,"t":1925,"y":19},
{"s":5,"t":66,"y":2},{"s":5,"t":200,"y":11},{"s":5,"t":300,"y":18},{"s":5,"t":360,"y":20},{"s":5,"t":450,"y":18},{"s":5,"t":550,"y":16},{"s":5,"t":650,"y":17},{"s":5,"t":750,"y":15},{"s":5,"t":800,"y":21},{"s":5,"t":850,"y":16},{"s":5,"t":950,"y":15},{"s":5,"t":1050,"y":17},{"s":5,"t":1100,"y":14},{"s":5,"t":1200,"y":14},{"s":5,"t":1300,"y":15},{"s":5,"t":1400,"y":14},{"s":5,"t":1500,"y":15},{"s":5,"t":1600,"y":14},{"s":5,"t":1700,"y":15},{"s":5,"t":1800,"y":14},{"s":5,"t":1925,"y":11},
{"s":16,"t":66,"y":7},{"s":16,"t":360,"y":8},{"s":16,"t":1925,"y":8},
{"s":6,"t":66,"y":1},{"s":6,"t":200,"y":3},{"s":6,"t":360,"y":5},{"s":6,"t":500,"y":5},{"s":6,"t":700,"y":4},{"s":6,"t":900,"y":6},{"s":6,"t":1100,"y":5},{"s":6,"t":1180,"y":5},{"s":6,"t":1190,"y":63},{"s":6,"t":1300,"y":63},{"s":6,"t":1312,"y":-15},{"s":6,"t":1330,"y":6},{"s":6,"t":1400,"y":5},{"s":6,"t":1500,"y":5},{"s":6,"t":1700,"y":5},{"s":6,"t":1800,"y":3},{"s":6,"t":1925,"y":2}
]
},
"columns":3,
"bounds":"flush",
"align":"each",
"spacing":{"row":0,"column":120},
"concat":[
  {"width":143,"height":1,"view":{"stroke":null},"data":{"values":[]},"mark":"point"},
  {"width":574,"height":84,"view":{"stroke":null},"data":{"values":[{"l":"Parental"}]},"mark":{"type":"text","font":"Liberation Sans","fontSize":48,"color":"#1e3a3c","baseline":"alphabetic","dx":-57.5,"dy":20},"encoding":{"text":{"field":"l","type":"nominal"}}},
  {"width":554,"height":81,"view":{"stroke":null},"data":{"values":[{"l":"Affinity Matured"}]},"mark":{"type":"text","font":"Liberation Sans","fontSize":48,"color":"#1e3a3c","baseline":"alphabetic","dx":-49,"dy":3},"encoding":{"text":{"field":"l","type":"nominal"}}},

  {"width":143,"height":193,"view":{"stroke":null},"data":{"values":[{"l":"Human\nPDL1"}]},"mark":{"type":"text","align":"left","baseline":"alphabetic","font":"Liberation Sans","fontSize":31,"fontWeight":"bold","color":"#1f3639","lineBreak":"\n","lineHeight":37,"dx":-55.5,"dy":-24.5},"encoding":{"text":{"field":"l","type":"nominal"}}},
  {"width":574,"height":193,"data":{"name":"a"},
   "encoding":{"x":{"field":"t","type":"quantitative","title":"Time (s)","scale":{"domain":[18.9,1962.5],"nice":false,"zero":false},"axis":{"values":[300,600,900,1200,1500,1800]}},"y":{"field":"y","type":"quantitative","title":"Response (RU)","scale":{"domain":[-18.7,238.6],"nice":false,"zero":false},"axis":{"values":[0,40,80,120,160,200]}}},
   "layer":[
    {"transform":[{"filter":"datum.s<10"}],"mark":{"type":"line","strokeWidth":1.6,"opacity":0.9},"encoding":{"color":{"field":"s","type":"nominal","legend":null,"scale":{"domain":[1,2,3,4,5,6],"range":["#4a6bff","#3d9bff","#45d0ff","#33e6e0","#3ccf9b","#2e9e55"]}}}},
    {"transform":[{"filter":"datum.s>10"}],"mark":{"type":"line","strokeWidth":3,"color":"#ff8a8a","opacity":0.45},"encoding":{"detail":{"field":"s","type":"nominal"}}},
    {"transform":[{"filter":"datum.s>10"}],"mark":{"type":"line","strokeWidth":1.2,"color":"#ff2b2b"},"encoding":{"detail":{"field":"s","type":"nominal"}}}
   ]},
  {"width":554,"height":190,"data":{"name":"b"},
   "encoding":{"x":{"field":"t","type":"quantitative","title":"Time (s)","scale":{"domain":[22.3,1898.2],"nice":false,"zero":false},"axis":{"values":[300,600,900,1200,1500,1800]}},"y":{"field":"y","type":"quantitative","title":"Response (RU)","scale":{"domain":[-16.8,228.4],"nice":false,"zero":false},"axis":{"values":[0,40,80,120,160,200]}}},
   "layer":[
    {"transform":[{"filter":"datum.s<10"}],"mark":{"type":"line","strokeWidth":1.6,"opacity":0.9},"encoding":{"color":{"field":"s","type":"nominal","legend":null,"scale":{"domain":[1,2,3,4,5,6],"range":["#4a6bff","#3d9bff","#45d0ff","#33e6e0","#3ccf9b","#2e9e55"]}}}},
    {"transform":[{"filter":"datum.s>10"}],"mark":{"type":"line","strokeWidth":3,"color":"#ff8a8a","opacity":0.45},"encoding":{"detail":{"field":"s","type":"nominal"}}},
    {"transform":[{"filter":"datum.s>10"}],"mark":{"type":"line","strokeWidth":1.2,"color":"#ff2b2b"},"encoding":{"detail":{"field":"s","type":"nominal"}}}
   ]},

  {"width":143,"height":1,"view":{"stroke":null},"data":{"values":[]},"mark":"point"},
  {"width":574,"height":63,"view":{"stroke":null},"data":{"values":[]},"mark":"point"},
  {"width":554,"height":1,"view":{"stroke":null},"data":{"values":[]},"mark":"point"},

  {"width":143,"height":193,"view":{"stroke":null},"data":{"values":[{"l":"cyno\nPDL1"}]},"mark":{"type":"text","align":"left","baseline":"alphabetic","font":"Liberation Sans","fontSize":31,"fontWeight":"bold","color":"#1f3639","lineBreak":"\n","lineHeight":37,"dx":-55.5,"dy":-24.5},"encoding":{"text":{"field":"l","type":"nominal"}}},
  {"width":574,"height":193,"data":{"name":"c"},
   "encoding":{"x":{"field":"t","type":"quantitative","title":"Time (s)","scale":{"domain":[18.9,1962.5],"nice":false,"zero":false},"axis":{"values":[300,600,900,1200,1500,1800]}},"y":{"field":"y","type":"quantitative","title":"Response (RU)","scale":{"domain":[-18.2,215.7],"nice":false,"zero":false},"axis":{"values":[0,40,80,120,160,200]}}},
   "layer":[
    {"transform":[{"filter":"datum.s<10"}],"mark":{"type":"line","strokeWidth":1.6,"opacity":0.9},"encoding":{"color":{"field":"s","type":"nominal","legend":null,"scale":{"domain":[1,2,3,4,5,6],"range":["#4a6bff","#3d9bff","#45d0ff","#33e6e0","#3ccf9b","#2e9e55"]}}}},
    {"transform":[{"filter":"datum.s>10"}],"mark":{"type":"line","strokeWidth":3,"color":"#ff8a8a","opacity":0.45},"encoding":{"detail":{"field":"s","type":"nominal"}}},
    {"transform":[{"filter":"datum.s>10"}],"mark":{"type":"line","strokeWidth":1.2,"color":"#ff2b2b"},"encoding":{"detail":{"field":"s","type":"nominal"}}}
   ]},
  {"width":554,"height":202,"data":{"name":"d"},
   "encoding":{"x":{"field":"t","type":"quantitative","title":"Time (s)","scale":{"domain":[22.3,1898.2],"nice":false,"zero":false},"axis":{"values":[300,600,900,1200,1500,1800]}},"y":{"field":"y","type":"quantitative","title":"Response (RU)","scale":{"domain":[-16.8,243.8],"nice":false,"zero":false},"axis":{"values":[0,40,80,120,160,200]}}},
   "layer":[
    {"transform":[{"filter":"datum.s<10"}],"mark":{"type":"line","strokeWidth":1.6,"opacity":0.9},"encoding":{"color":{"field":"s","type":"nominal","legend":null,"scale":{"domain":[1,2,3,4,5,6],"range":["#4a6bff","#3d9bff","#45d0ff","#33e6e0","#3ccf9b","#2e9e55"]}}}},
    {"transform":[{"filter":"datum.s>10"}],"mark":{"type":"line","strokeWidth":3,"color":"#ff8a8a","opacity":0.45},"encoding":{"detail":{"field":"s","type":"nominal"}}},
    {"transform":[{"filter":"datum.s>10"}],"mark":{"type":"line","strokeWidth":1.2,"color":"#ff2b2b"},"encoding":{"detail":{"field":"s","type":"nominal"}}}
   ]},

  {"width":143,"height":1,"view":{"stroke":null},"data":{"values":[]},"mark":"point"},
  {"width":574,"height":120,"view":{"stroke":null},"data":{"values":[]},"mark":"point"},
  {"width":554,"height":1,"view":{"stroke":null},"data":{"values":[]},"mark":"point"},

  {"width":143,"height":192,"view":{"stroke":null},"data":{"values":[{"l":"Human\nPDL2"}]},"mark":{"type":"text","align":"left","baseline":"alphabetic","font":"Liberation Sans","fontSize":31,"fontWeight":"bold","color":"#1f3639","lineBreak":"\n","lineHeight":37,"dx":-51,"dy":38},"encoding":{"text":{"field":"l","type":"nominal"}}},
  {"width":574,"height":192,"data":{"name":"e"},
   "encoding":{"x":{"field":"t","type":"quantitative","title":"Time (s)","scale":{"domain":[18.9,1962.5],"nice":false,"zero":false},"axis":{"values":[300,600,900,1200,1500,1800]}},"y":{"field":"y","type":"quantitative","title":"Response (RU)","scale":{"domain":[-26.9,197.4],"nice":false,"zero":false},"axis":{"values":[0,40,80,120,160]}}},
   "layer":[
    {"transform":[{"filter":"datum.s<10"}],"mark":{"type":"line","strokeWidth":1.6,"opacity":0.9},"encoding":{"color":{"field":"s","type":"nominal","legend":null,"scale":{"domain":[1,2,3,4,5,6],"range":["#4a6bff","#3d9bff","#45d0ff","#33e6e0","#3ccf9b","#2e9e55"]}}}},
    {"transform":[{"filter":"datum.s>10"}],"mark":{"type":"line","strokeWidth":3,"color":"#ff8a8a","opacity":0.45},"encoding":{"detail":{"field":"s","type":"nominal"}}},
    {"transform":[{"filter":"datum.s>10"}],"mark":{"type":"line","strokeWidth":1.2,"color":"#ff2b2b"},"encoding":{"detail":{"field":"s","type":"nominal"}}}
   ]},
  {"width":554,"height":192,"data":{"name":"f"},
   "encoding":{"x":{"field":"t","type":"quantitative","title":"Time (s)","scale":{"domain":[22.3,1898.2],"nice":false,"zero":false},"axis":{"values":[300,600,900,1200,1500,1800]}},"y":{"field":"y","type":"quantitative","title":"Response (RU)","scale":{"domain":[-39.1,287.4],"nice":false,"zero":false},"axis":{"values":[0,50,100,150,200,250]}}},
   "layer":[
    {"transform":[{"filter":"datum.s<10"}],"mark":{"type":"line","strokeWidth":1.6,"opacity":0.9},"encoding":{"color":{"field":"s","type":"nominal","legend":null,"scale":{"domain":[1,2,3,4,5,6],"range":["#4a6bff","#3d9bff","#45d0ff","#33e6e0","#3ccf9b","#2e9e55"]}}}},
    {"transform":[{"filter":"datum.s>10"}],"mark":{"type":"line","strokeWidth":3,"color":"#ff8a8a","opacity":0.45},"encoding":{"detail":{"field":"s","type":"nominal"}}},
    {"transform":[{"filter":"datum.s>10"}],"mark":{"type":"line","strokeWidth":1.2,"color":"#ff2b2b"},"encoding":{"detail":{"field":"s","type":"nominal"}}}
   ]},

  {"width":143,"height":1,"view":{"stroke":null},"data":{"values":[]},"mark":"point"},
  {"width":574,"height":62,"view":{"stroke":null},"data":{"values":[]},"mark":"point"},
  {"width":554,"height":1,"view":{"stroke":null},"data":{"values":[]},"mark":"point"},

  {"width":143,"height":194,"view":{"stroke":null},"data":{"values":[{"l":"cyno\nPDL2"}]},"mark":{"type":"text","align":"left","baseline":"alphabetic","font":"Liberation Sans","fontSize":31,"fontWeight":"bold","color":"#1f3639","lineBreak":"\n","lineHeight":37,"dx":-43.5,"dy":5},"encoding":{"text":{"field":"l","type":"nominal"}}},
  {"width":574,"height":194,"data":{"name":"g"},
   "encoding":{"x":{"field":"t","type":"quantitative","title":"Time (s)","scale":{"domain":[18.9,1962.5],"nice":false,"zero":false},"axis":{"values":[300,600,900,1200,1500,1800]}},"y":{"field":"y","type":"quantitative","title":"Response (RU)","scale":{"domain":[-26.2,256],"nice":false,"zero":false},"axis":{"values":[0,40,80,120,160,200,240]}}},
   "layer":[
    {"transform":[{"filter":"datum.s<10"}],"mark":{"type":"line","strokeWidth":1.6,"opacity":0.9},"encoding":{"color":{"field":"s","type":"nominal","legend":null,"scale":{"domain":[1,2,3,4,5,6],"range":["#4a6bff","#3d9bff","#45d0ff","#33e6e0","#3ccf9b","#2e9e55"]}}}},
    {"transform":[{"filter":"datum.s>10"}],"mark":{"type":"line","strokeWidth":3,"color":"#ff8a8a","opacity":0.45},"encoding":{"detail":{"field":"s","type":"nominal"}}},
    {"transform":[{"filter":"datum.s>10"}],"mark":{"type":"line","strokeWidth":1.2,"color":"#ff2b2b"},"encoding":{"detail":{"field":"s","type":"nominal"}}}
   ]},
  {"width":554,"height":194,"data":{"name":"h"},
   "encoding":{"x":{"field":"t","type":"quantitative","title":"Time (s)","scale":{"domain":[22.3,1898.2],"nice":false,"zero":false},"axis":{"values":[300,600,900,1200,1500,1800]}},"y":{"field":"y","type":"quantitative","title":"Response (RU)","scale":{"domain":[-39.3,307.1],"nice":false,"zero":false},"axis":{"values":[0,50,100,150,200,250,300]}}},
   "layer":[
    {"transform":[{"filter":"datum.s<10"}],"mark":{"type":"line","strokeWidth":1.6,"opacity":0.9},"encoding":{"color":{"field":"s","type":"nominal","legend":null,"scale":{"domain":[1,2,3,4,5,6],"range":["#4a6bff","#3d9bff","#45d0ff","#33e6e0","#3ccf9b","#2e9e55"]}}}},
    {"transform":[{"filter":"datum.s>10"}],"mark":{"type":"line","strokeWidth":3,"color":"#ff8a8a","opacity":0.45},"encoding":{"detail":{"field":"s","type":"nominal"}}},
    {"transform":[{"filter":"datum.s>10"}],"mark":{"type":"line","strokeWidth":1.2,"color":"#ff2b2b"},"encoding":{"detail":{"field":"s","type":"nominal"}}}
   ]}
]
}
